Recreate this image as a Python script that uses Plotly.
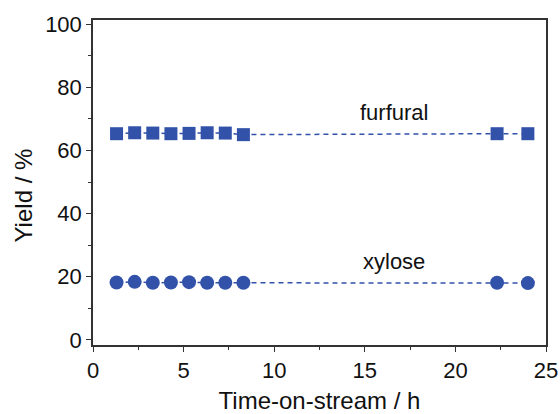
import plotly.graph_objects as go

time_h = [1.3, 2.3, 3.3, 4.3, 5.3, 6.3, 7.3, 8.3, 22.3, 24.0]
furfural = [65.3, 65.6, 65.5, 65.3, 65.4, 65.6, 65.5, 65.0, 65.3, 65.3]
xylose = [18.2, 18.4, 18.1, 18.2, 18.3, 18.1, 18.1, 18.1, 18.1, 18.0]

color = "rgb(50,82,170)"
font = "Liberation Sans, Arial, sans-serif"

fig = go.Figure()
fig.add_trace(go.Scatter(x=time_h, y=furfural, mode="lines+markers",
                         line=dict(color=color, width=1.5, dash="5px,4px"),
                         marker=dict(symbol="square", size=13, color=color),
                         name="furfural", showlegend=False))
fig.add_trace(go.Scatter(x=time_h, y=xylose, mode="lines+markers",
                         line=dict(color=color, width=1.5, dash="5px,4px"),
                         marker=dict(symbol="circle", size=14, color=color),
                         name="xylose", showlegend=False))

fig.add_annotation(x=16.6, y=65.3, yshift=21, text="furfural", showarrow=False,
                   font=dict(size=22, color="#111", family=font))
fig.add_annotation(x=16.6, y=18.1, yshift=21, text="xylose", showarrow=False,
                   font=dict(size=22, color="#111", family=font))

# y-axis title placed slightly below center as in the reference
fig.add_annotation(xref="paper", yref="paper", x=0, y=0.46, xshift=-70,
                   xanchor="center", yanchor="middle",
                   text="Yield / %", textangle=-90, showarrow=False,
                   font=dict(size=24, color="#111", family=font))

axis_common = dict(showline=True, linecolor="#333", linewidth=1.5, mirror=True,
                   ticks="outside", ticklen=5, tickwidth=1.2, tickcolor="#333",
                   showgrid=False, zeroline=False, automargin=False,
                   tickfont=dict(size=22, color="#111", family=font))

fig.update_xaxes(range=[0, 25], dtick=5,
                 minor=dict(ticks="outside", ticklen=3, dtick=2.5, tickcolor="#333", tickwidth=1.2),
                 title=dict(text="Time-on-stream / h", font=dict(size=24, color="#111", family=font), standoff=12),
                 **axis_common)
fig.update_yaxes(range=[-1.6, 101.3], tickvals=[0, 20, 40, 60, 80, 100],
                 minor=dict(ticks="outside", ticklen=3, tickvals=[10, 30, 50, 70, 90], tickcolor="#333", tickwidth=1.2),
                 **axis_common)

fig.update_layout(width=560, height=414, margin=dict(l=93, r=14, t=20, b=69),
                  plot_bgcolor="white", paper_bgcolor="white")

fig.write_html("out.html")
